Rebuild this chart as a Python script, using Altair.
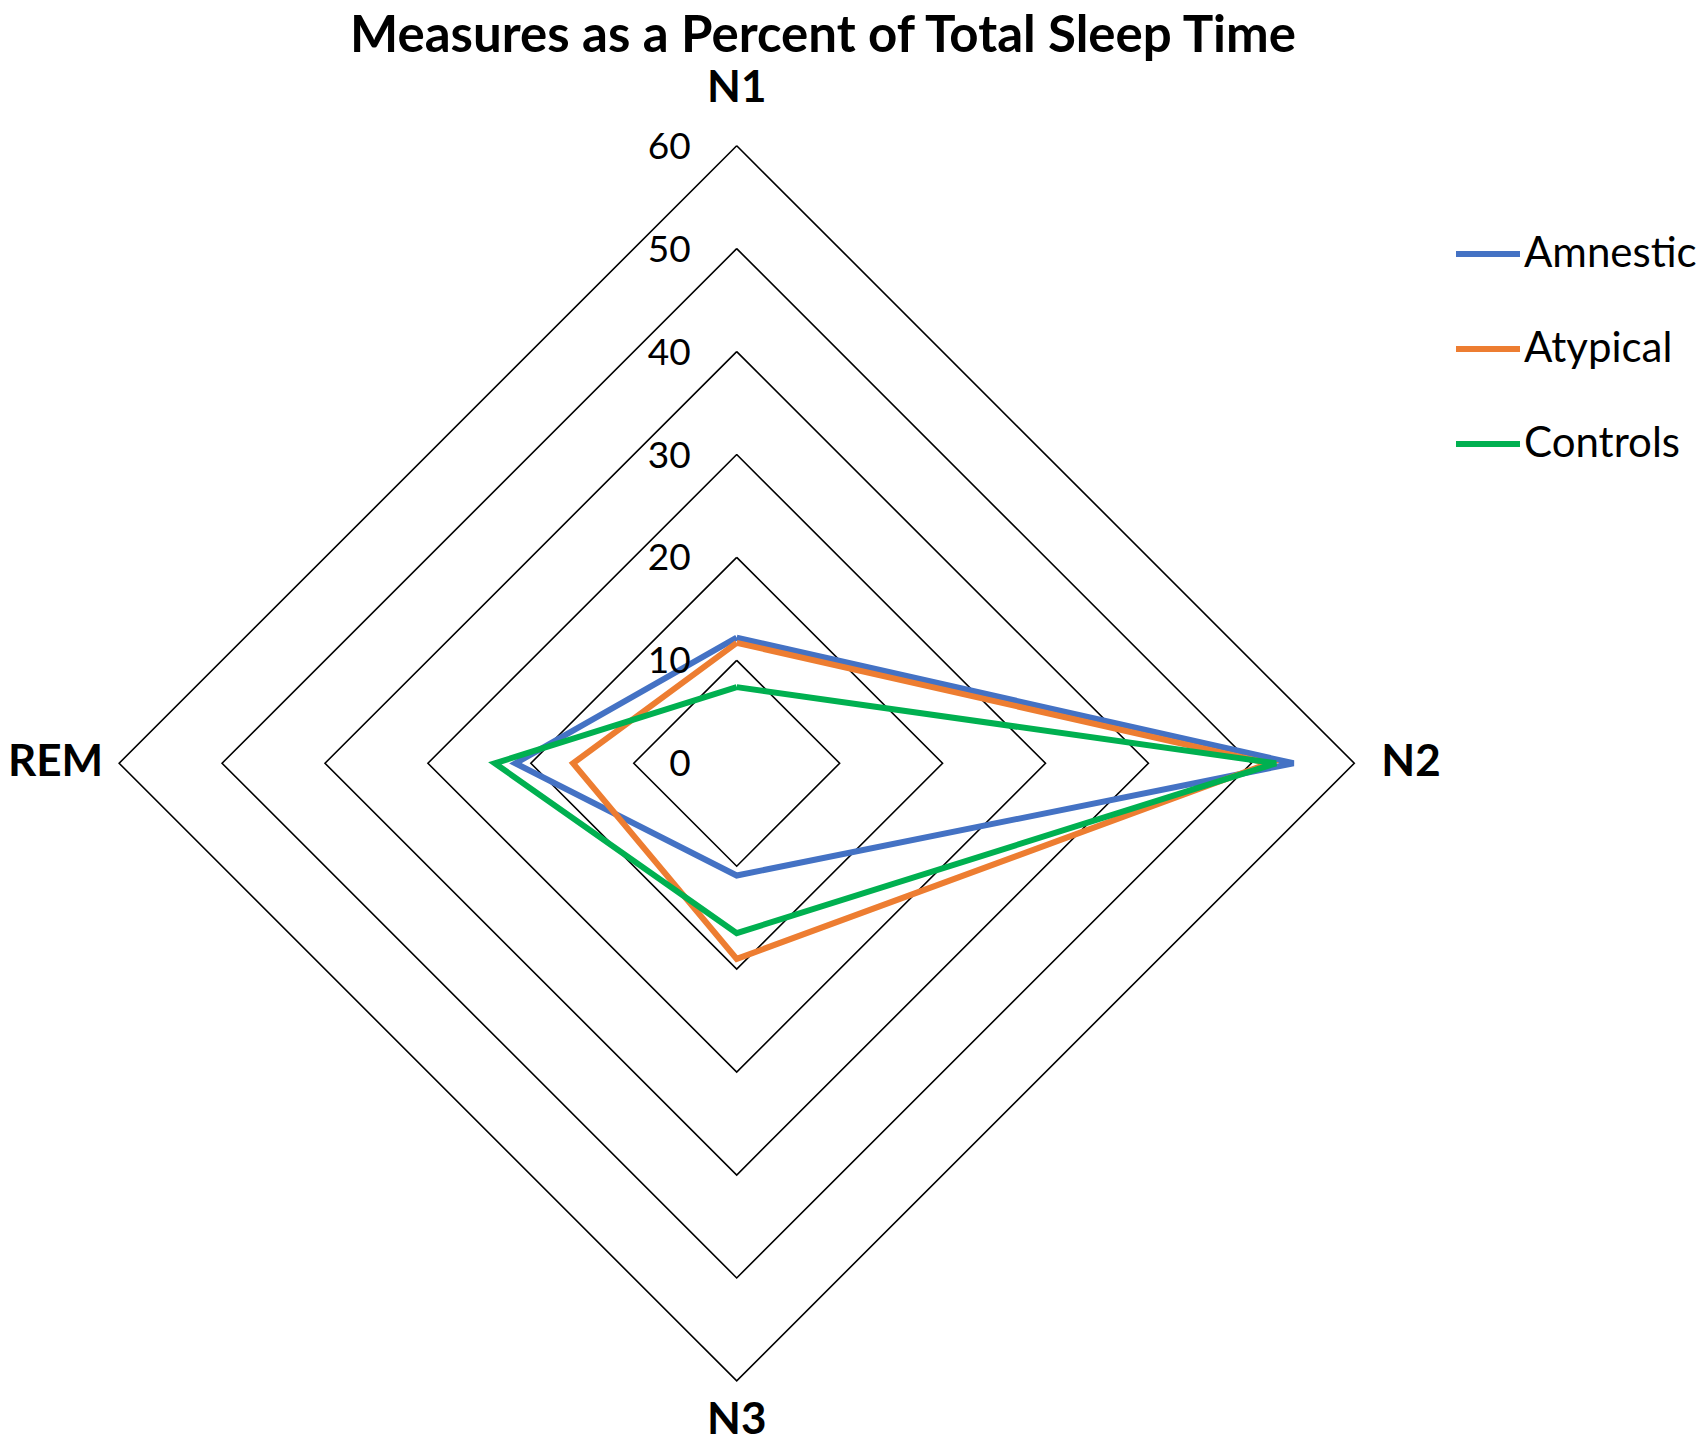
import altair as alt
import pandas as pd

# ---- data ----
categories = ["N1", "N2", "N3", "REM"]
series_names = ["Amnestic", "Atypical", "Controls"]
amnestic = [12.2, 54.1, 10.9, 21.5]
atypical = [11.7, 51.7, 19.0, 15.9]
controls = [7.4, 52.4, 16.5, 23.5]
ring_values = [10, 20, 30, 40, 50, 60]
tick_values = [0, 10, 20, 30, 40, 50, 60]
title_text = "Measures as a Percent of Total Sleep Time"
colors = ["#4472C4", "#ED7D31", "#00B050"]

FONT = "Lato"
W, H = 1689, 1437

# ---- tables built from the arrays ----
rows = []
for name, vals in zip(series_names, [amnestic, atypical, controls]):
    for k in range(len(categories) + 1):
        i = k % len(categories)
        rows.append({"series": name, "category": categories[i], "idx": i, "order": k, "value": vals[i]})
series_df = pd.DataFrame(rows)

ring_rows = []
for r in ring_values:
    for k in range(len(categories) + 1):
        ring_rows.append({"ring": r, "idx": k % len(categories), "order": k})
ring_df = pd.DataFrame(ring_rows)

tick_df = pd.DataFrame({"value": tick_values})
cat_df = pd.DataFrame({"category": categories, "idx": list(range(len(categories))),
                       "value": [max(ring_values)] * len(categories)})

xs = alt.Scale(domain=[-70.80, 93.30], nice=False, zero=False)
ys = alt.Scale(domain=[-66.23, 73.38], nice=False, zero=False)

def X():
    return alt.X("px:Q", scale=xs, axis=None)

def Y():
    return alt.Y("py:Q", scale=ys, axis=None)

rings = alt.Chart(ring_df).transform_calculate(
    px="datum.ring * sin(datum.idx * PI / 2)",
    py="datum.ring * cos(datum.idx * PI / 2)",
).mark_line(color="black", strokeWidth=1.6).encode(
    x=X(), y=Y(), detail="ring:N", order="order:Q"
)

lines = alt.Chart(series_df).transform_calculate(
    px="datum.value * sin(datum.idx * PI / 2)",
    py="datum.value * cos(datum.idx * PI / 2)",
).mark_line(strokeWidth=6, strokeJoin="miter").encode(
    x=X(), y=Y(), order="order:Q",
    color=alt.Color("series:N", sort=series_names,
                    scale=alt.Scale(domain=series_names, range=colors),
                    legend=alt.Legend(
                        title=None, orient="none", legendX=1445, legendY=211,
                        symbolType="stroke", symbolSize=4096, symbolStrokeWidth=6,
                        labelFont=FONT, labelFontSize=42, labelColor="black",
                        labelOffset=1, rowPadding=39, labelLimit=400,
                    )),
)

ticks = alt.Chart(tick_df).transform_calculate(px="0", py="datum.value").mark_text(
    align="right", baseline="middle", dx=-46, dy=2, font=FONT, fontSize=37, color="black"
).encode(x=X(), y=Y(), text="value:Q")

def cat_layer(i, **kw):
    return alt.Chart(cat_df).transform_filter(f"datum.idx == {i}").transform_calculate(
        px="datum.value * sin(datum.idx * PI / 2)",
        py="datum.value * cos(datum.idx * PI / 2)",
    ).mark_text(font=FONT, fontSize=44, fontWeight="bold", color="black",
                baseline="middle", **kw).encode(x=X(), y=Y(), text="category:N")

cats = (cat_layer(0, align="center", dy=-57)
        + cat_layer(1, align="left", dx=27)
        + cat_layer(2, align="center", dy=40)
        + cat_layer(3, align="right", dx=-16))

title = alt.Chart(pd.DataFrame({"t": [title_text]})).mark_text(
    font=FONT, fontSize=51, fontWeight="bold", color="black", baseline="alphabetic", align="center"
).encode(x=alt.value(815), y=alt.value(44), text="t:N")

chart = alt.layer(rings, lines, ticks, cats, title).properties(
    width=W, height=H, autosize=alt.AutoSizeParams(type="none"), padding=0
).configure_view(stroke=None)

chart.save("out.html", embed_options={"renderer": "svg", "actions": False})
